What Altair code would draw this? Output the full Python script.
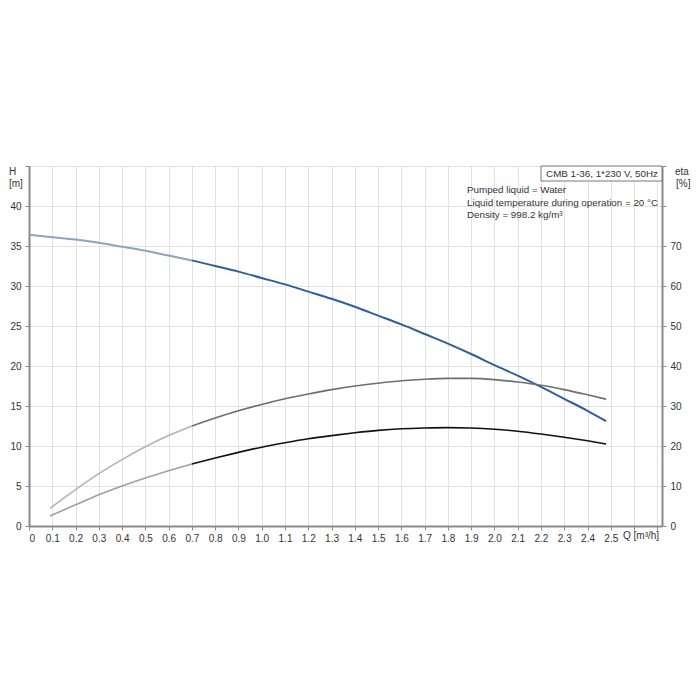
import altair as alt
import pandas as pd

# ---- data ----
q_h = [0.0, 0.1, 0.2, 0.3, 0.4, 0.5, 0.6, 0.7, 0.8, 0.9, 1.0, 1.1, 1.2, 1.3,
       1.4, 1.5, 1.6, 1.7, 1.8, 1.9, 2.0, 2.1, 2.2, 2.3, 2.4, 2.48]
h_vals = [36.4, 36.1, 35.8, 35.4, 34.9, 34.4, 33.8, 33.2, 32.5, 31.8, 31.0, 30.2,
          29.3, 28.4, 27.4, 26.3, 25.2, 24.0, 22.8, 21.5, 20.1, 18.8, 17.4, 15.9,
          14.4, 13.1]

q_eta = [0.09, 0.2, 0.3, 0.4, 0.5, 0.6, 0.7, 0.8, 0.9, 1.0, 1.1, 1.2, 1.3, 1.4,
         1.5, 1.6, 1.7, 1.8, 1.9, 2.0, 2.1, 2.2, 2.3, 2.4, 2.48]
eta_pump = [4.4, 9.1, 13.1, 16.6, 19.8, 22.6, 25.0, 27.0, 28.8, 30.4, 31.8, 33.0,
            34.1, 35.0, 35.7, 36.3, 36.7, 36.9, 36.9, 36.6, 36.0, 35.2, 34.1,
            32.8, 31.7]
eta_total = [2.5, 5.3, 7.8, 10.0, 12.0, 13.8, 15.5, 17.0, 18.4, 19.7, 20.8, 21.8,
             22.6, 23.3, 23.9, 24.3, 24.5, 24.6, 24.5, 24.2, 23.7, 23.0, 22.2,
             21.3, 20.5]

x_ticks = [round(i / 10, 1) for i in range(28)]
h_ticks = list(range(0, 50, 5))
eta_ticks = list(range(0, 100, 10))

info_lines = ["Pumped liquid = Water",
              "Liquid temperature during operation = 20 °C",
              "Density = 998.2 kg/m³"]
title_box = "CMB 1-36, 1*230 V, 50Hz"

SPLIT = 0.7
FONT = "Liberation Sans"


def segments(qs, vs, name, light, dark):
    rows = []
    for q, v in zip(qs, vs):
        if q <= SPLIT:
            rows.append({"Q": q, "v": v, "seg": name + "_a", "c": light})
        if q >= SPLIT:
            rows.append({"Q": q, "v": v, "seg": name + "_b", "c": dark})
    return rows


df_h = pd.DataFrame(segments(q_h, h_vals, "H", "#8fa3bf", "#2e5f99"))
df_eta = pd.DataFrame(
    segments(q_eta, eta_pump, "p", "#b3b3b3", "#6e6e6e")
    + segments(q_eta, eta_total, "t", "#a0a0a0", "#111111")
)

xscale = alt.Scale(domain=[0, 2.72], nice=False, zero=False)
xaxis = alt.Axis(
    values=x_ticks, title=None, grid=True, gridColor="#e2e2e2",
    labelExpr="datum.value > 2.55 ? '' : (datum.value == 0 ? '0' : format(datum.value, '.1f'))",
    domainColor="#8a8a8a", domainWidth=2, tickColor="#8a8a8a", tickSize=4,
    labelFont=FONT, labelFontSize=10, labelColor="#333", labelPadding=3,
)

h_layer = alt.Chart(df_h).mark_line(strokeWidth=2, interpolate="monotone").encode(
    x=alt.X("Q:Q", scale=xscale, axis=xaxis),
    y=alt.Y("v:Q", scale=alt.Scale(domain=[0, 45], nice=False),
            axis=alt.Axis(values=h_ticks, title=None, orient="left", grid=True,
                          gridColor="#e2e2e2",
                          labelExpr="datum.value > 42 ? '' : datum.value",
                          domainColor="#8a8a8a", domainWidth=2,
                          tickColor="#8a8a8a", tickSize=4,
                          labelFont=FONT, labelFontSize=10, labelColor="#333",
                          labelPadding=4)),
    color=alt.Color("c:N", scale=None),
    detail="seg:N",
)

eta_layer = alt.Chart(df_eta).mark_line(strokeWidth=1.6, interpolate="monotone").encode(
    x=alt.X("Q:Q", scale=xscale, axis=xaxis),
    y=alt.Y("v:Q", scale=alt.Scale(domain=[0, 90], nice=False),
            axis=alt.Axis(values=eta_ticks, title=None, orient="right", grid=False,
                          labelExpr="datum.value > 75 ? '' : datum.value",
                          domainColor="#8a8a8a", domainWidth=2,
                          tickColor="#8a8a8a", tickSize=4,
                          labelFont=FONT, labelFontSize=10, labelColor="#333",
                          labelPadding=4)),
    color=alt.Color("c:N", scale=None),
    detail="seg:N",
)

base = alt.Chart(pd.DataFrame({"a": [0]}))


def label(txt, x, y, align="left", size=10):
    return base.mark_text(text=txt, align=align, baseline="middle", font=FONT,
                          fontSize=size, color="#333").encode(
        x=alt.value(x), y=alt.value(y))


box = base.mark_rect(fill="white", stroke="#777", strokeWidth=1).encode(
    x=alt.value(512), x2=alt.value(633), y=alt.value(0), y2=alt.value(15))

texts = [
    label("H", -20, 6),
    label("[m]", -20, 18),
    label("eta", 646, 6),
    label("[%]", 647, 18),
    label("Q [m³/h]", 594, 370),
    label(title_box, 573, 8, align="center", size=9.8),
]
for i, t in enumerate(info_lines):
    texts.append(label(t, 438, 24 + 12.5 * i, size=9.8))

chart = alt.layer(h_layer, eta_layer, box, *texts).resolve_scale(
    y="independent", color="independent"
).properties(
    width=633, height=360,
    autosize=alt.AutoSizeParams(type="none"),
    padding={"left": 21, "top": 158, "right": 30, "bottom": 40},
).configure_view(stroke=None)

chart.save("out.html", embed_options={"renderer": "svg", "actions": False})
